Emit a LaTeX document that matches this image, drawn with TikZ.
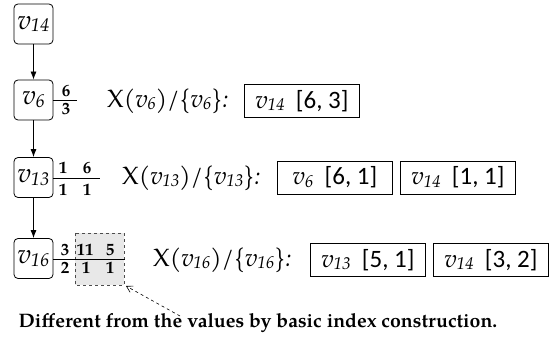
\documentclass[tikz,border=0pt]{standalone}
\usepackage{fontspec}
\setmainfont{TeX Gyre Pagella}
\newfontfamily\calib{Carlito}
\usetikzlibrary{arrows.meta}
\newcommand{\vx}[1]{{\itshape v\kern-0.3pt\raisebox{-0.2ex}{\fontsize{0.68\dimexpr\fontdimen6\font\relax}{1em}\selectfont #1}}}
\tikzset{
  vnode/.style={draw, line width=0.8pt, rounded corners=4pt, minimum width=39pt, minimum height=40pt, inner sep=0pt, font=\fontsize{27}{27}\selectfont},
  num/.style={inner sep=0pt, font=\fontsize{17}{17}\selectfont\bfseries},
  lbl/.style={anchor=west, inner sep=0pt, font=\fontsize{25}{25}\selectfont},
  xbox/.style={draw, line width=0.8pt, minimum width=115pt, minimum height=33pt, inner sep=0pt, font=\fontsize{25}{25}\selectfont},
  vedge/.style={line width=0.8pt, -{Latex[length=8pt,width=6pt]}},
  fline/.style={line width=0.8pt}
}
\begin{document}
\begin{tikzpicture}[x=1pt,y=-1pt]
\useasboundingbox (0,0) rectangle (549,344);
% dashed highlight
\draw[dashed, draw=black!70, fill=black!9, line width=0.6pt] (75,233) rectangle (124,285);
\node[vnode] (v14) at (33.5,24) {\vx{14}};
\node[vnode] (v6) at (33.5,100) {\vx{6}};
\node[vnode] (v13) at (33.5,177.5) {\vx{13}};
\node[vnode] (v16) at (33.5,258.5) {\vx{16}};
\draw[vedge] (v14) -- (v6);
\draw[vedge] (v6) -- (v13);
\draw[vedge] (v13) -- (v16);
% fractions
\coordinate (f1) at (77,100);
\coordinate (f2) at (100,178);
\coordinate (f3) at (125,259);
\draw[fline] (v6.east |- f1) -- (f1);
\draw[fline] (v13.east |- f2) -- (f2);
\draw[fline] (v16.east |- f3) -- (f3);
\node[num] (a1) at (66,91) {6};
\node[num] (a2) at (66,109) {3};
\node[num] (b1) at (63,168) {1};
\node[num] (b2) at (87,168) {6};
\node[num] (b3) at (63,190) {1};
\node[num] (b4) at (87,190) {1};
\node[num] (c1) at (65,250) {3};
\node[num] (c2) at (85,250) {11};
\node[num] (c3) at (110,250) {5};
\node[num] (c4) at (65,268) {2};
\node[num] (c5) at (86,268) {1};
\node[num] (c6) at (110,268) {1};
% labels
\node[lbl] (l1) at (107,101) {X\textit{(\vx{6})/\{\vx{6}\}:}};
\node[lbl] (l2) at (122,178) {X\textit{(\vx{13})/\{\vx{13}\}:}};
\node[lbl] (l3) at (153,260) {X\textit{(\vx{16})/\{\vx{16}\}:}};
% boxes
\node[xbox] (r1a) at (302,101) {\vx{14}\hspace{0.45em}{\calib [6, 3]}};
\node[xbox] (r2a) at (335,177.5) {\vx{6}\hspace{0.45em}{\calib [6, 1]}};
\node[xbox] (r2b) at (458,177.5) {\vx{14}\hspace{0.45em}{\calib [1, 1]}};
\node[xbox] (r3a) at (368,260) {\vx{13}\hspace{0.45em}{\calib [5, 1]}};
\node[xbox] (r3b) at (491,260) {\vx{14}\hspace{0.45em}{\calib [3, 2]}};
% note
\node[inner sep=0pt, font=\fontsize{19.5}{19.5}\selectfont\bfseries] (note) at (258,323) {Different from the values by basic index construction.};
\coordinate (ns) at (180,316);
\coordinate (ne) at (126,286);
\draw[dashed, line width=0.6pt, -{Straight Barb[length=6pt,width=7pt]}] (ns) -- (ne);
\end{tikzpicture}
\end{document}
